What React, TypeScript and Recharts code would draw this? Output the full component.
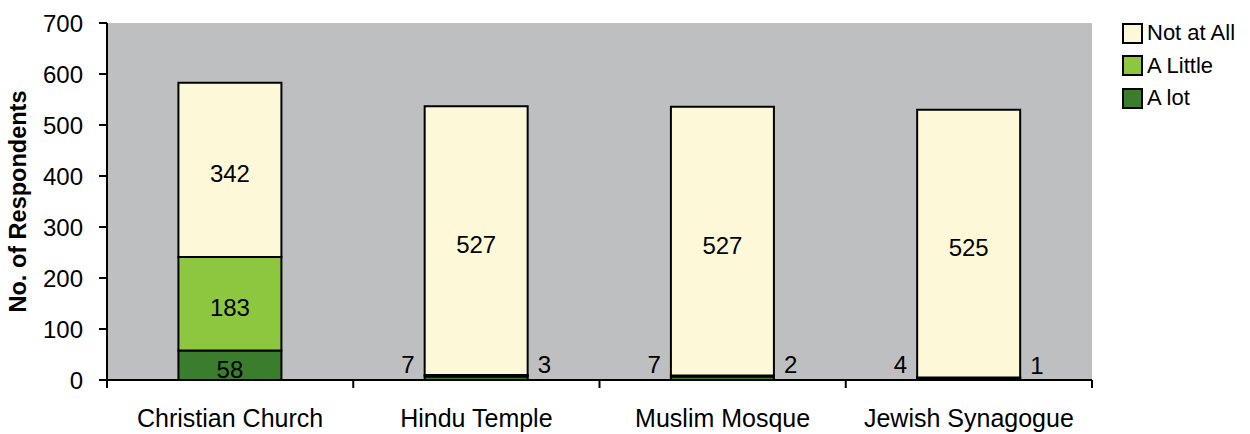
import { BarChart, Bar, XAxis, YAxis, CartesianGrid, LabelList } from 'recharts'

const CATEGORIES = ['Christian Church', 'Hindu Temple', 'Muslim Mosque', 'Jewish Synagogue']
const A_LOT = [58, 7, 7, 4]
const A_LITTLE = [183, 3, 2, 1]
const NOT_AT_ALL = [342, 527, 527, 525]
const Y_TICKS = [0, 100, 200, 300, 400, 500, 600, 700]

const FONT = '"Liberation Sans", Arial, sans-serif'
const COLORS = { notAtAll: '#FDF9D8', aLittle: '#8DC63F', aLot: '#3A7D2C' }

const LEGEND = [
  { label: 'Not at All', color: COLORS.notAtAll },
  { label: 'A Little', color: COLORS.aLittle },
  { label: 'A lot', color: COLORS.aLot },
]

const chartData = CATEGORIES.map((name, i) => ({
  name,
  aLot: A_LOT[i],
  aLittle: A_LITTLE[i],
  notAtAll: NOT_AT_ALL[i],
}))

const PLOT_W = 1250 - 107 - 158
const BAND = PLOT_W / CATEGORIES.length

function CategoryTick(props: any) {
  const { x, y, payload, index } = props
  const half = BAND / 2
  return (
    <g>
      <line x1={x - half} x2={x - half} y1={y - 8} y2={y} stroke="#000" strokeWidth={2} />
      {index === CATEGORIES.length - 1 && (
        <line x1={x + half} x2={x + half} y1={y - 8} y2={y} stroke="#000" strokeWidth={2} />
      )}
      <text x={x} y={y + 30} textAnchor="middle" dominantBaseline="central" fontSize={25} fontFamily={FONT} fill="#000">
        {payload.value}
      </text>
    </g>
  )
}

function YLabel(props: any) {
  const { viewBox } = props
  const cy = viewBox.y + viewBox.height / 2
  return (
    <text
      x={18}
      y={cy}
      transform={`rotate(-90, 18, ${cy})`}
      textAnchor="middle"
      dominantBaseline="central"
      fontSize={23.5}
      fontWeight="bold"
      fontFamily={FONT}
      fill="#000"
    >
      No. of Respondents
    </text>
  )
}

const makeLabel = (side: 'left' | 'right' | 'center', lift: number) => (props: any) => {
  const { x, y, width, height, value } = props
  const small = value < 20
  let tx = x + width / 2
  let ty = y + height / 2 + 4
  let anchor: 'middle' | 'start' | 'end' = 'middle'
  if (small && side !== 'center') {
    ty = y + height - lift
    if (side === 'left') {
      tx = x - 10
      anchor = 'end'
    } else {
      tx = x + width + 10
      anchor = 'start'
    }
  }
  return (
    <text x={tx} y={ty} textAnchor={anchor} dominantBaseline="central" fontSize={24} fontFamily={FONT} fill="#000">
      {value}
    </text>
  )
}

export default function App() {
  return (
    <div style={{ position: 'absolute', left: 0, top: 0, width: 1250, height: 434, background: '#fff' }}>
      <BarChart
        width={1250}
        height={434}
        data={chartData}
        margin={{ top: 23, right: 158, bottom: 0, left: 0 }}
        barCategoryGap="29%"
      >
        <CartesianGrid horizontal={false} vertical={false} fill="#BEBFC1" />
        <XAxis
          dataKey="name"
          height={54}
          axisLine={{ stroke: '#000', strokeWidth: 2 }}
          tickLine={false}
          tick={<CategoryTick />}
          interval={0}
        />
        <XAxis
          xAxisId="top"
          orientation="top"
          dataKey="name"
          height={0}
          tick={false}
          tickLine={false}
          axisLine={{ stroke: '#9A9A9A', strokeWidth: 2 }}
        />
        <YAxis
          width={107}
          domain={[0, 700]}
          ticks={Y_TICKS}
          interval={0}
          tickSize={8}
          tickMargin={16}
          axisLine={{ stroke: '#000', strokeWidth: 2 }}
          tickLine={{ stroke: '#000', strokeWidth: 2 }}
          tick={{ fontSize: 24, fontFamily: FONT, fill: '#000' }}
          label={<YLabel />}
        />
        <YAxis
          yAxisId="right"
          orientation="right"
          width={0}
          domain={[0, 700]}
          tick={false}
          tickLine={false}
          axisLine={{ stroke: '#9A9A9A', strokeWidth: 2 }}
        />
        <Bar dataKey="aLot" stackId="s" fill={COLORS.aLot} stroke="#000" strokeWidth={2} isAnimationActive={false}>
          <LabelList dataKey="aLot" content={makeLabel('left', 16)} />
        </Bar>
        <Bar dataKey="aLittle" stackId="s" fill={COLORS.aLittle} stroke="#000" strokeWidth={2} isAnimationActive={false}>
          <LabelList dataKey="aLittle" content={makeLabel('right', 12)} />
        </Bar>
        <Bar dataKey="notAtAll" stackId="s" fill={COLORS.notAtAll} stroke="#000" strokeWidth={2} isAnimationActive={false}>
          <LabelList dataKey="notAtAll" content={makeLabel('center', 0)} />
        </Bar>
      </BarChart>
      <div style={{ position: 'absolute', left: 1122, top: 17, fontFamily: FONT, fontSize: 22 }}>
        {LEGEND.map((item) => (
          <div key={item.label} style={{ display: 'flex', alignItems: 'center', height: 32.5 }}>
            <span
              style={{
                width: 17,
                height: 17,
                background: item.color,
                border: '2px solid #000',
                marginRight: 4,
                display: 'inline-block',
              }}
            />
            <span>{item.label}</span>
          </div>
        ))}
      </div>
    </div>
  )
}
